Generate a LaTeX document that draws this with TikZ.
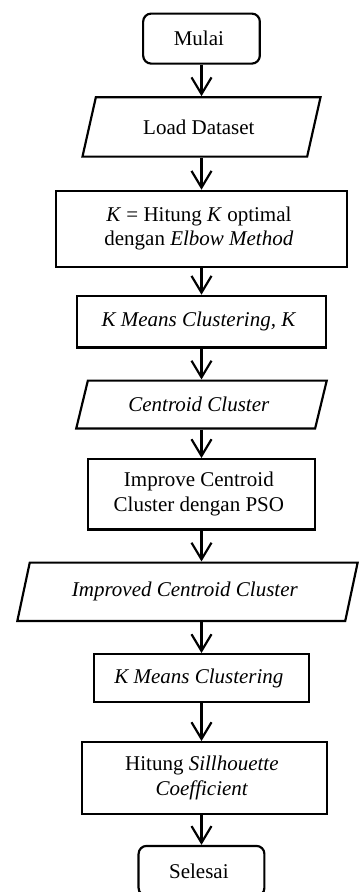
\documentclass[tikz,border=0pt]{standalone}
\usepackage{fontspec}
\setmainfont{Liberation Serif}
\usetikzlibrary{matrix,shapes.geometric,arrows.meta}
\newcommand{\stackrows}[2]{\begin{tabular}{@{}c@{}}#1\\#2\end{tabular}}

\begin{document}
\begin{tikzpicture}[x=0.6pt,y=0.6pt,line width=1.3pt,
  term/.style={draw,rectangle,rounded corners=4.8pt},
  proc/.style={draw,rectangle},
  io/.style={draw,trapezium,trapezium left angle=70,trapezium right angle=110,trapezium stretches=true},
  flow/.style={-{Straight Barb[length=10pt,width=12pt]}}]
\useasboundingbox (0,0) rectangle (359,-892);
\matrix (m)[matrix of nodes, row sep=18.6pt, matrix anchor=m-1-1.north, nodes={anchor=center, align=center, inner sep=2pt, font=\fontsize{12.6}{14.8}\selectfont}] at (201.5,-12.5) {
|[term,minimum width=70pt,minimum height=30pt]| Mulai \\[0.3pt]
|[io,minimum width=144pt,minimum height=35.6pt]| Load Dataset \\[0.6pt]
|[proc,minimum width=175pt,minimum height=45.5pt]| \stackrows{\textit{K} = Hitung \textit{K} optimal}{dengan \textit{Elbow Method}} \\[-2.4pt]
|[proc,minimum width=149.3pt,minimum height=31pt]| \textit{K Means Clustering, K} \\
|[io,minimum width=150.5pt,minimum height=28.7pt]| \textit{Centroid Cluster} \\[-1.5pt]
|[proc,minimum width=136pt,minimum height=42.2pt]| \stackrows{Improve Centroid}{Cluster dengan PSO} \\
|[io,minimum width=204.5pt,minimum height=35pt,xshift=-8.4pt]| \textit{Improved Centroid Cluster} \\
|[proc,minimum width=129pt,minimum height=28.7pt]| \textit{K Means Clustering} \\[4.2pt]
|[proc,minimum width=147pt,minimum height=43pt,xshift=1.8pt]| \stackrows{Hitung \textit{Sillhouette}}{\textit{Coefficient}} \\[-0.6pt]
|[term,minimum width=75.5pt,minimum height=30pt]| Selesai \\
};
% arrows down the column
\draw[flow] (m-1-1.south) -- (m-2-1.north -| m-1-1);
\draw[flow] (m-2-1.south -| m-1-1) -- (m-3-1.north -| m-1-1);
\draw[flow] (m-3-1.south -| m-1-1) -- (m-4-1.north -| m-1-1);
\draw[flow] (m-4-1.south -| m-1-1) -- (m-5-1.north -| m-1-1);
\draw[flow] (m-5-1.south -| m-1-1) -- (m-6-1.north -| m-1-1);
\draw[flow] (m-6-1.south -| m-1-1) -- (m-7-1.north -| m-1-1);
\draw[flow] (m-7-1.south -| m-1-1) -- (m-8-1.north -| m-1-1);
\draw[flow] (m-8-1.south -| m-1-1) -- (m-9-1.north -| m-1-1);
\draw[flow] (m-9-1.south -| m-1-1) -- (m-10-1.north -| m-1-1);
\end{tikzpicture}
\end{document}
